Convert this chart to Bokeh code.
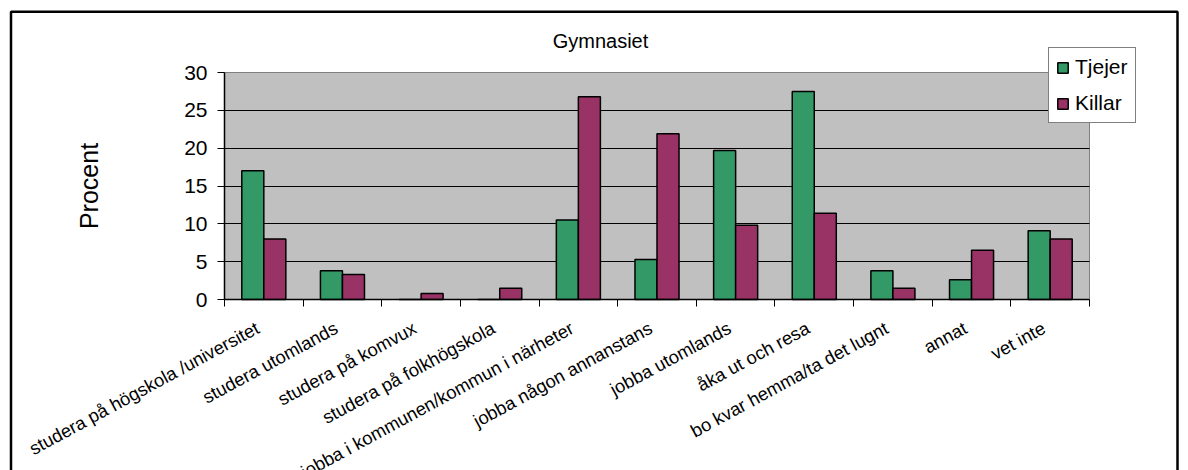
import math
from bokeh.plotting import figure
from bokeh.models import (ColumnDataSource, FixedTicker, Range1d, BoxAnnotation,
                          Label, CustomJSTickFormatter)
from bokeh.transform import dodge
from bokeh.embed import file_html
from bokeh.resources import INLINE

# ---- data ----
categories = [
    "studera på högskola /universitet",
    "studera utomlands",
    "studera på komvux",
    "studera på folkhögskola",
    "jobba i kommunen/kommun i närheter",
    "jobba någon annanstans",
    "jobba utomlands",
    "åka ut och resa",
    "bo kvar hemma/ta det lugnt",
    "annat",
    "vet inte",
]
tjejer = [17.0, 3.8, 0.0, 0.0, 10.5, 5.3, 19.7, 27.5, 3.8, 2.6, 9.1]
killar = [8.0, 3.3, 0.8, 1.5, 26.8, 21.9, 9.8, 11.4, 1.5, 6.5, 8.0]
y_ticks = [0, 5, 10, 15, 20, 25, 30]
title_text = "Gymnasiet"
y_label = "Procent"

FONT = "Liberation Sans"

# ---- layout (pixels of the page) ----
W, H = 1188, 470
PX_L, PX_R, PY_T, PY_B = 224, 1089, 72, 299
n = len(categories)
x_lo, x_hi = -0.5, n - 0.5
y_lo, y_hi = y_ticks[0], y_ticks[-1]
ux = (PX_R - PX_L) / (x_hi - x_lo)
uy = (PY_B - PY_T) / (y_hi - y_lo)


def xd(px):
    return x_lo + (px - PX_L) / ux


def yd(py):
    return y_lo + (PY_B - py) / uy


pos = list(range(n))
src = ColumnDataSource(dict(pos=pos, tjejer=tjejer, killar=killar))

p = figure(
    frame_width=W, frame_height=H,
    x_range=Range1d(xd(0), xd(W)),
    y_range=Range1d(yd(H), yd(0)),
    output_backend="svg", toolbar_location=None, title=None,
    min_border=0, min_border_left=0, min_border_right=0,
    min_border_top=0, min_border_bottom=0,
    background_fill_color="white", border_fill_color="white",
    outline_line_color=None,
)

# gray plot area
plot_area = BoxAnnotation(left=x_lo, right=x_hi, bottom=y_lo, top=y_hi,
                          fill_color="#C0C0C0", fill_alpha=1,
                          line_color="#808080", line_alpha=1, line_width=1,
                          level="image")
p.add_layout(plot_area)

# outer chart border
chart_border = BoxAnnotation(left=xd(10.5), right=xd(1177), top=yd(11.2), bottom=yd(H + 20),
                             fill_alpha=0, line_color="black", line_alpha=1,
                             line_width=2.5, level="overlay")
p.add_layout(chart_border)

p.vbar(x=dodge("pos", -0.14), top="tjejer", width=0.28, source=src,
       fill_color="#339966", line_color="black", line_width=1.5,
       legend_label="Tjejer")
p.vbar(x=dodge("pos", 0.14), top="killar", width=0.28, source=src,
       fill_color="#993366", line_color="black", line_width=1.5,
       legend_label="Killar")

# grid
p.xgrid.visible = False
p.ygrid.ticker = FixedTicker(ticks=y_ticks[1:-1])
p.ygrid.cross_bounds = (x_lo, x_hi)
p.ygrid.grid_line_color = "black"
p.ygrid.grid_line_width = 1
p.ygrid.grid_line_alpha = 1

# y axis
ya = p.yaxis[0]
ya.fixed_location = x_lo
ya.bounds = (y_lo, y_hi)
ya.ticker = FixedTicker(ticks=y_ticks)
ya.major_tick_out = 7
ya.major_tick_in = 0
ya.minor_tick_out = 0
ya.minor_tick_in = 0
ya.axis_line_color = "black"
ya.axis_line_width = 1.5
ya.major_tick_line_color = "black"
ya.major_label_text_font = FONT
ya.major_label_text_font_size = "21px"
ya.major_label_text_color = "black"
ya.major_label_standoff = 10
ya.axis_label = y_label
ya.axis_label_text_font = FONT
ya.axis_label_text_font_size = "25px"
ya.axis_label_text_font_style = "normal"
ya.axis_label_text_color = "black"
ya.axis_label_standoff = 78

# x axis
xa = p.xaxis[0]
xa.fixed_location = y_lo
xa.bounds = (x_lo, x_hi)
xa.ticker = FixedTicker(ticks=[i - 0.08 for i in pos],
                        minor_ticks=[i - 0.5 for i in range(n + 1)])
xa.formatter = CustomJSTickFormatter(args=dict(labels=categories),
                                     code="return labels[Math.round(tick)] || '';")
xa.major_label_orientation = math.radians(28.5)
xa.major_tick_out = 0
xa.major_tick_in = 0
xa.minor_tick_out = 7
xa.minor_tick_in = 0
xa.minor_tick_line_color = "black"
xa.axis_line_color = "black"
xa.axis_line_width = 1.5
xa.major_label_text_font = FONT
xa.major_label_text_font_size = "18.3px"
xa.major_label_text_color = "black"
xa.major_label_standoff = 20

# title
p.add_layout(Label(x=xd(600), y=yd(40), text=title_text, text_align="center",
                   text_baseline="middle", text_font=FONT, text_font_size="20px",
                   text_color="black"))

# legend
lg = p.legend[0]
lg.location = (1048, H - 123)
lg.border_line_color = "black"
lg.border_line_width = 1
lg.background_fill_color = "white"
lg.background_fill_alpha = 1
lg.label_text_font = FONT
lg.label_text_font_size = "21px"
lg.label_text_color = "black"
lg.glyph_width = 13
lg.glyph_height = 13
lg.label_height = 24
lg.label_standoff = 6
lg.spacing = 12
lg.padding = 7
lg.margin = 0

open("out.html", "w").write(file_html(p, INLINE))
